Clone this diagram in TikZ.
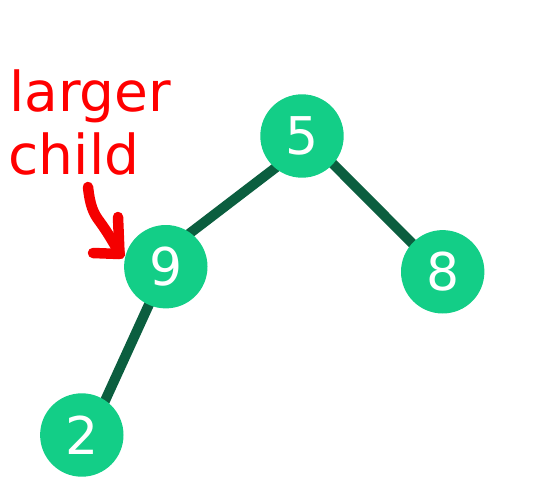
\documentclass[tikz,border=0pt]{standalone}
\usepackage{fontspec}
\setmainfont{DejaVu Sans}
\usetikzlibrary{backgrounds}
\definecolor{nodefill}{RGB}{19,206,135}
\definecolor{edgecol}{RGB}{11,94,63}
\definecolor{notered}{RGB}{245,0,0}
\begin{document}
\begin{tikzpicture}[x=1pt,y=-1pt,
  heapnode/.style={circle,fill=nodefill,draw=none,minimum size=83.4pt,inner sep=0pt,
    text=white,font=\fontsize{52}{52}\selectfont},
  heapedge/.style={draw=edgecol,line width=10pt,shorten <=-4pt,shorten >=-4pt},
  notetext/.style={anchor=base west,text=red,inner sep=0pt,font=\fontsize{55}{63}\selectfont},
  scribble/.style={draw=notered,line width=10.5pt,line cap=round,line join=round}]
\useasboundingbox (0,0) rectangle (551,497);
\node[heapnode] (n5) at (302,136) {5};
\node[heapnode] (n9) at (165.8,266.7) {9};
\node[heapnode] (n8) at (442.7,271.8) {8};
\node[heapnode] (n2) at (81.8,435) {2};
\begin{scope}[on background layer]
\path[heapedge] (n5.230) -- (n9.54.5);
\path[heapedge] (n5.318.8) -- (n8.137.4);
\path[heapedge] (n9.246.4) -- (n2.56.5);
\end{scope}
% annotation
\node[notetext] (lbl) at (9,111.7) {larger};
\node[notetext] (lbl2) at (8.5,175) {child};
\coordinate (a0) at (88,187);
\coordinate (tip) at (120,254);
\draw[scribble] (a0) .. controls (90,205) and (93,213) .. (100,222)
   .. controls (108,233) and (113,242) .. (tip);
\draw[scribble] (118,217) -- (119.5,254) -- (93,253);
\end{tikzpicture}
\end{document}
